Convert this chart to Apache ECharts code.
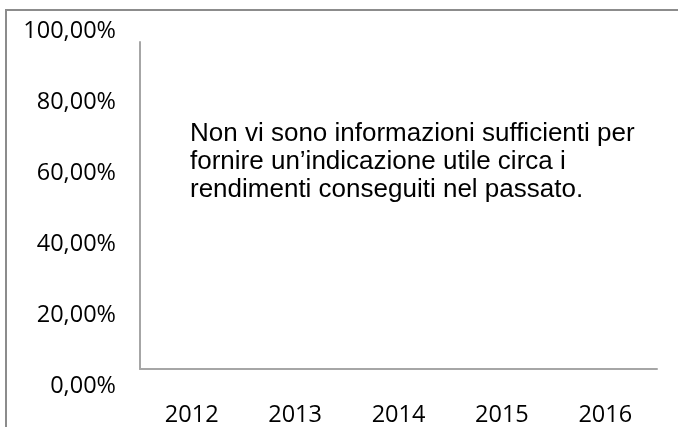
<!DOCTYPE html>
<html>
<head>
<meta charset="utf-8">
<script src="https://cdn.jsdelivr.net/npm/echarts@6/dist/echarts.min.js"></script>
<style>
  html, body { margin: 0; padding: 0; background: #fff; }
  #chart { width: 678px; height: 427px; }
</style>
</head>
<body>
<div id="chart"></div>
<script>
// chart data
const years = ["2012", "2013", "2014", "2015", "2016"];
const yTicks = [0, 20, 40, 60, 80, 100];
const returns = [null, null, null, null, null]; // no data available
const noteLines = [
  "Non vi sono informazioni sufficienti per",
  "fornire un\u2019indicazione utile circa i",
  "rendimenti conseguiti nel passato."
];

const chart = echarts.init(document.getElementById("chart"));

const labelFont = { color: "#000", fontFamily: "Open Sans", fontSize: 23.5 };

const option = {
  backgroundColor: "#fff",
  animation: false,
  grid: [
    // labels-only grid for the percentage ticks
    { left: 140, right: 21, top: 31, bottom: 41 },
    // grid holding the axis lines and year labels
    { left: 140, right: 21, top: 42, bottom: 56 }
  ],
  xAxis: [
    { gridIndex: 0, type: "category", data: years, show: false },
    {
      gridIndex: 1,
      type: "category",
      data: years,
      axisLine: { show: true, lineStyle: { color: "#a6a6a6", width: 2 } },
      axisTick: { show: false },
      axisLabel: Object.assign({ margin: 34 }, labelFont),
      splitLine: { show: false }
    }
  ],
  yAxis: [
    {
      gridIndex: 0,
      type: "value",
      min: yTicks[0],
      max: yTicks[yTicks.length - 1],
      interval: 20,
      axisLine: { show: false },
      axisTick: { show: false },
      splitLine: { show: false },
      axisLabel: Object.assign({
        margin: 24,
        formatter: (v) => v.toFixed(2).replace(".", ",") + "%"
      }, labelFont)
    },
    {
      gridIndex: 1,
      type: "value",
      min: 0,
      max: 100,
      axisLine: { show: true, lineStyle: { color: "#a6a6a6", width: 2 } },
      axisTick: { show: false },
      axisLabel: { show: false },
      splitLine: { show: false }
    }
  ],
  series: [
    {
      name: "Rendimenti",
      type: "bar",
      xAxisIndex: 1,
      yAxisIndex: 1,
      data: returns
    }
  ],
  graphic: [
    {
      type: "rect",
      shape: { x: 6, y: 10, width: 740, height: 460 },
      style: { fill: "none", stroke: "#8c8c8c", lineWidth: 2 },
      silent: true
    },
    {
      type: "text",
      left: 190,
      top: 120,
      style: {
        text: noteLines.join("\n"),
        fill: "#000",
        font: "26px 'Liberation Sans', Arial, sans-serif",
        lineHeight: 28
      }
    }
  ]
};

chart.setOption(option);
</script>
</body>
</html>
